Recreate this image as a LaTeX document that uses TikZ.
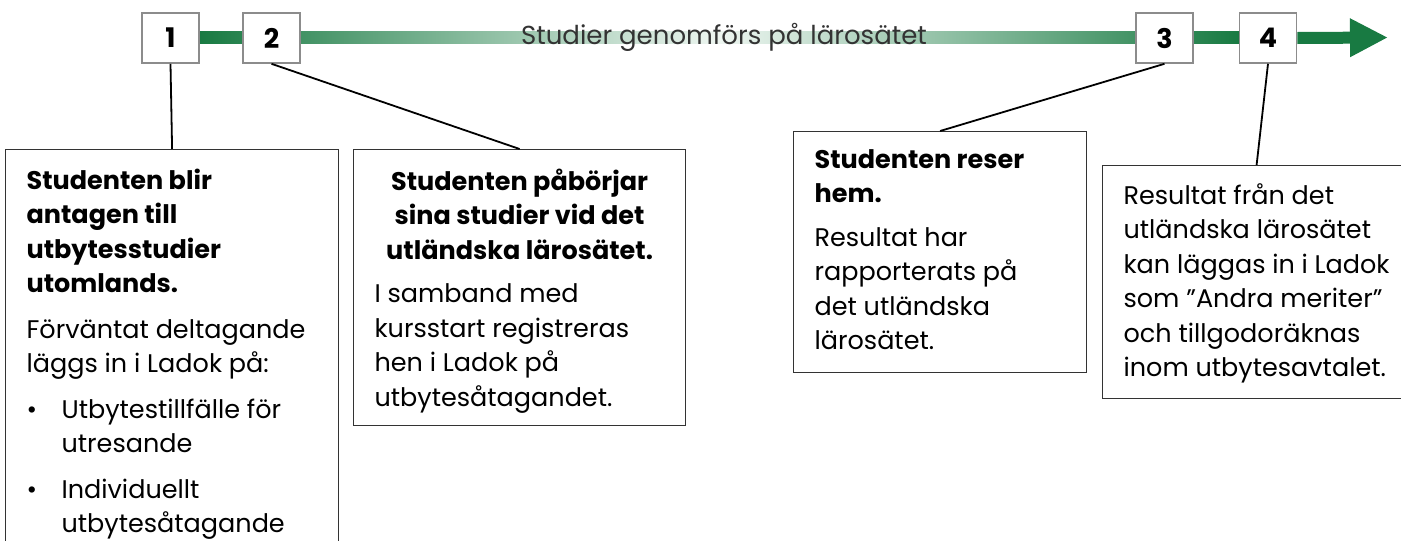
\documentclass[tikz,border=0pt]{standalone}
\usepackage{fontspec}
\setmainfont{Poppins}
\usetikzlibrary{arrows.meta}

\definecolor{ladokgreen}{RGB}{24,122,66}
\definecolor{palegreen}{RGB}{238,246,241}

\tikzset{
  stepnum/.style={draw=black!45, line width=1.6pt, fill=white, minimum width=57pt, minimum height=50pt, inner sep=0pt, font=\bfseries\fontsize{27}{27}\selectfont},
  infobox/.style={draw=black!80, line width=1.2pt, anchor=north west, inner xsep=21pt, inner ysep=0pt, font=\fontsize{25.5}{34.5}\selectfont},
  link/.style={black, line width=1.8pt}
}

\begin{document}
\begin{tikzpicture}[x=1pt, y=-1pt]
    \clip (0,0) rectangle (1401,541);

    % Tidslinje
    \shade[left color=ladokgreen, right color=ladokgreen, middle color=palegreen] (199,31.5) rectangle (1239,43.5);
    \node[font=\fontsize{26}{26}\selectfont, text=black!80] (phase) at (724,37.5) {Studier genomförs på lärosätet};

    \node[stepnum] (s1) at (170.5,38) {1};
    \node[stepnum] (s2) at (271.5,38) {2};
    \node[stepnum] (s3) at (1164.5,38) {3};
    \node[stepnum] (s4) at (1268,38) {4};

    \coordinate (tip) at (1388,37.5);
    \draw[ladokgreen, line width=12pt, -{Triangle[length=38pt, width=36pt]}] (s4.east) -- (tip);

    % Rutor
    \node[infobox] (boxA) at (5,149) {\parbox[c][421pt][t]{291pt}{\raggedright\vspace*{19pt}%
        \textbf{Studenten blir\\antagen till\\utbytesstudier\\utomlands.}\par\vspace{11pt}
        Förväntat deltagande\\läggs in i Ladok på:\par\vspace{11pt}
        \hangindent=35pt\hangafter=1\makebox[35pt][l]{\textbullet}Utbytestillfälle för\newline utresande\par\vspace{11pt}
        \hangindent=35pt\hangafter=1\makebox[35pt][l]{\textbullet}Individuellt\newline utbytesåtagande}};

    \node[infobox] (boxB) at (353,149) {\parbox[c][276pt][t]{290pt}{\vspace*{19pt}%
        {\centering\textbf{Studenten påbörjar\\sina studier vid det\\utländska lärosätet.}\par}\vspace{9pt}
        \raggedright I samband med\\kursstart registreras\\hen i Ladok på\\utbytesåtagandet.}};

    \node[infobox] (boxC) at (793,131) {\parbox[c][241pt][t]{251pt}{\raggedright\vspace*{18pt}%
        \textbf{Studenten reser\\hem.}\par\vspace{9pt}
        Resultat har\\rapporterats på\\det utländska\\lärosätet.}};

    \node[infobox] (boxD) at (1102,165) {\parbox[c][233pt][t]{266pt}{\raggedright\vspace*{18pt}%
        Resultat från det\\utländska lärosätet\\kan läggas in i Ladok\\som ”Andra meriter”\\och tillgodoräknas\\inom utbytesavtalet.}};

    % Linjer
    \draw[link] (s1.south) -- (boxA.north);
    \draw[link] (s2.south) -- (boxB.north);
    \draw[link] (s3.south) -- (boxC.north);
    \draw[link] (s4.south) -- (boxD.north);
\end{tikzpicture}
\end{document}
